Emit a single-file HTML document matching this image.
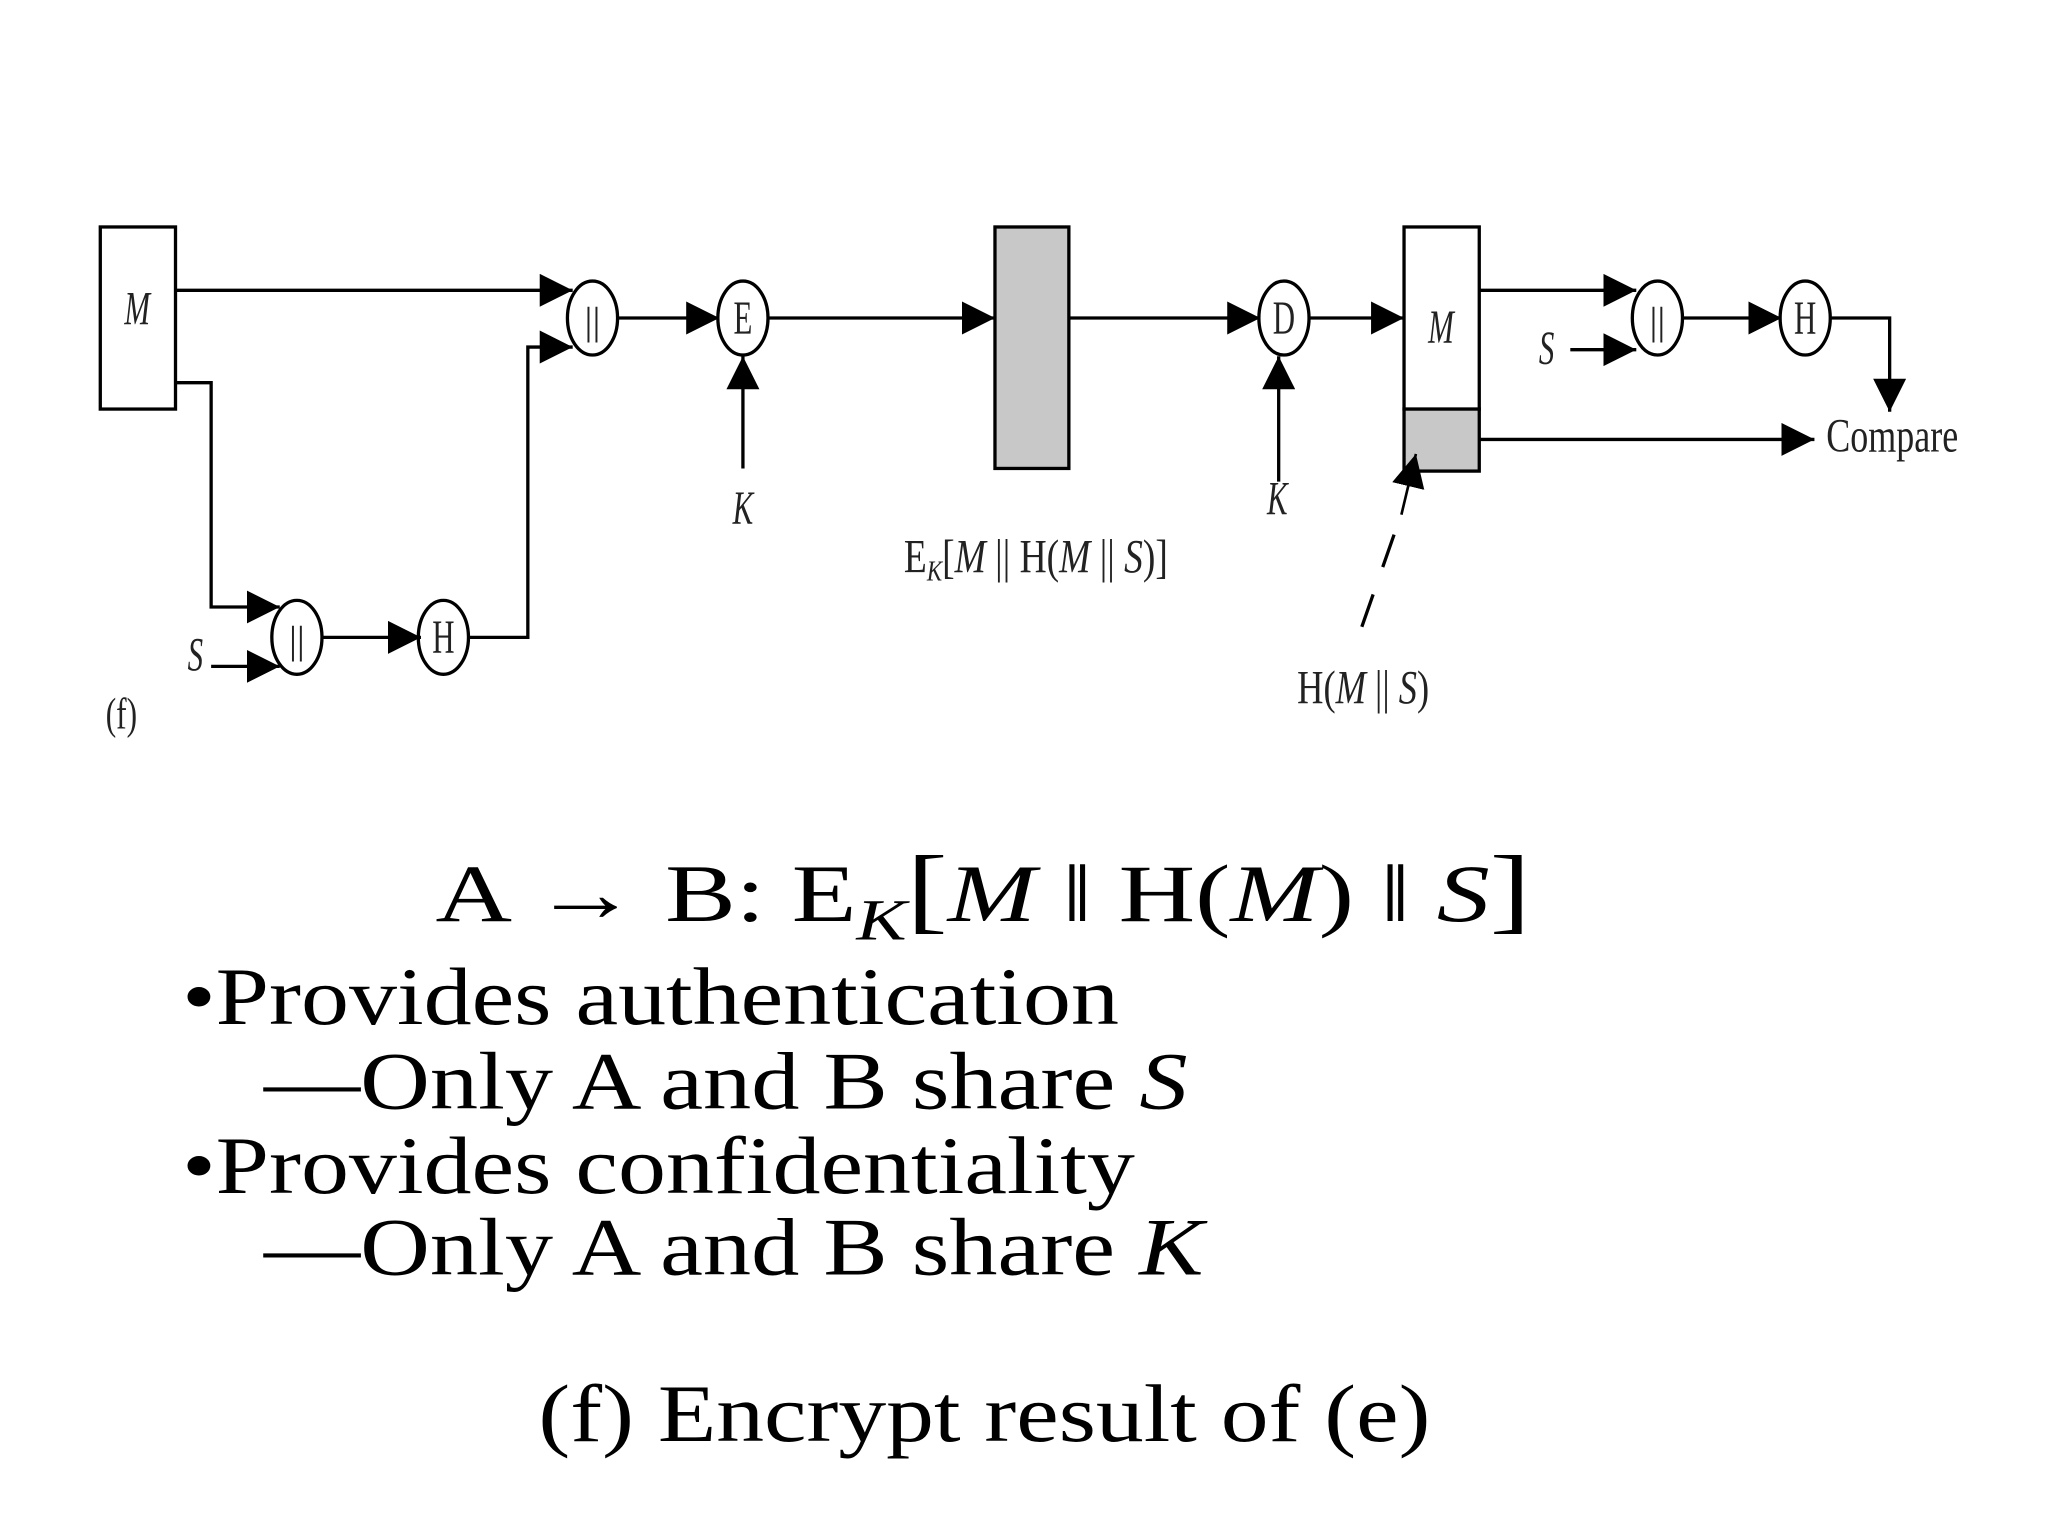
<!DOCTYPE html>
<html><head><meta charset="utf-8"><style>html,body{margin:0;padding:0;background:#fff}svg{display:block}</style></head>
<body>
<svg width="2048" height="1536" viewBox="0 0 1552 1164" xmlns="http://www.w3.org/2000/svg" font-family="Liberation Serif, serif">
<defs>
<marker id="a" viewBox="0 0 10 10" refX="10" refY="5" markerWidth="25" markerHeight="25" markerUnits="userSpaceOnUse" orient="auto"><path d="M0,0 L10,5 L0,10 z" fill="#000"/></marker>
</defs>
<g stroke="#000" stroke-width="2.5" fill="none">
<rect x="76" y="172" width="57" height="138" fill="#fff"/>
<rect x="754" y="172" width="56" height="183" fill="#c8c8c8"/>
<rect x="1064" y="172" width="57" height="138" fill="#fff"/>
<rect x="1064" y="310" width="57" height="47" fill="#c8c8c8"/>
<ellipse cx="449" cy="241" rx="19" ry="28" fill="#fff"/>
<ellipse cx="563" cy="241" rx="19" ry="28" fill="#fff"/>
<ellipse cx="225" cy="483" rx="19" ry="28" fill="#fff"/>
<ellipse cx="336" cy="483" rx="19" ry="28" fill="#fff"/>
<ellipse cx="973" cy="241" rx="19" ry="28" fill="#fff"/>
<ellipse cx="1256" cy="241" rx="19" ry="28" fill="#fff"/>
<ellipse cx="1368" cy="241" rx="19" ry="28" fill="#fff"/>
<path d="M133,220 H434" marker-end="url(#a)"/>
<path d="M133,290 H160 V460 H212" marker-end="url(#a)"/>
<path d="M160,505 H212" marker-end="url(#a)"/>
<path d="M244,483 H319" marker-end="url(#a)"/>
<path d="M355,483 H400 V263 H434" marker-end="url(#a)"/>
<path d="M468,241 H545" marker-end="url(#a)"/>
<path d="M563,355 V270" marker-end="url(#a)"/>
<path d="M582,241 H754" marker-end="url(#a)"/>
<path d="M810,241 H955" marker-end="url(#a)"/>
<path d="M969,365 V270" marker-end="url(#a)"/>
<path d="M992,241 H1064" marker-end="url(#a)"/>
<path d="M1121,220 H1240" marker-end="url(#a)"/>
<path d="M1190,265 H1240" marker-end="url(#a)"/>
<path d="M1275,241 H1350" marker-end="url(#a)"/>
<path d="M1387,241 H1432 V312" marker-end="url(#a)"/>
<path d="M1121,333 H1375" marker-end="url(#a)"/>
<path d="M1032,475 L1060,395" stroke-dasharray="26,22"/>
<path d="M1062,390 L1073,344" stroke-width="2" marker-end="url(#a)"/>
</g>
<g font-size="36" fill="#222" text-anchor="middle">
<text x="104" y="246" font-style="italic" transform="translate(104,0) scale(0.65,1) translate(-104,0)">M</text>
<text x="449" y="253" font-size="30">||</text>
<text x="563" y="253" transform="translate(563,0) scale(0.65,1) translate(-563,0)">E</text>
<text x="225" y="495" font-size="30">||</text>
<text x="336" y="495" transform="translate(336,0) scale(0.65,1) translate(-336,0)">H</text>
<text x="973" y="253" transform="translate(973,0) scale(0.65,1) translate(-973,0)">D</text>
<text x="1092" y="260" font-style="italic" transform="translate(1092,0) scale(0.65,1) translate(-1092,0)">M</text>
<text x="1256" y="253" font-size="30">||</text>
<text x="1368" y="253" transform="translate(1368,0) scale(0.65,1) translate(-1368,0)">H</text>
<text x="563" y="397" font-style="italic" transform="translate(563,0) scale(0.65,1) translate(-563,0)">K</text>
<text x="968" y="390" font-style="italic" transform="translate(968,0) scale(0.65,1) translate(-968,0)">K</text>
<text x="148" y="508" font-style="italic" transform="translate(148,0) scale(0.65,1) translate(-148,0)">S</text>
<text x="1172" y="276" font-style="italic" transform="translate(1172,0) scale(0.65,1) translate(-1172,0)">S</text>
<text x="92" y="552" font-size="34" transform="translate(92,0) scale(0.7,1) translate(-92,0)">(f)</text>
</g>
<g font-size="36" fill="#222">
<text x="1384" y="342" textLength="100" lengthAdjust="spacingAndGlyphs">Compare</text>
<text x="685" y="434" textLength="200" lengthAdjust="spacingAndGlyphs">E<tspan font-size="22" font-style="italic" dy="6">K</tspan><tspan dy="-6">[</tspan><tspan font-style="italic">M</tspan> || H(<tspan font-style="italic">M</tspan> || <tspan font-style="italic">S</tspan>)]</text>
<text x="983" y="533" textLength="100" lengthAdjust="spacingAndGlyphs">H(<tspan font-style="italic">M</tspan> || <tspan font-style="italic">S</tspan>)</text>
</g>
<g fill="#000" font-size="62">
<text x="330" y="698" textLength="830" lengthAdjust="spacingAndGlyphs">A → B:  E<tspan font-size="44" font-style="italic" dy="14">K</tspan><tspan dy="-14" font-size="72">[</tspan><tspan font-style="italic">M</tspan> ǁ H(<tspan font-style="italic">M</tspan>) ǁ <tspan font-style="italic">S</tspan><tspan font-size="72">]</tspan></text>
<text x="138" y="776" textLength="710" lengthAdjust="spacingAndGlyphs">•Provides authentication</text>
<text x="200" y="840" textLength="700" lengthAdjust="spacingAndGlyphs">—Only A and B share <tspan font-style="italic">S</tspan></text>
<text x="138" y="904" textLength="722" lengthAdjust="spacingAndGlyphs">•Provides confidentiality</text>
<text x="200" y="966" textLength="712" lengthAdjust="spacingAndGlyphs">—Only A and B share <tspan font-style="italic">K</tspan></text>
<text x="408" y="1092" textLength="676" lengthAdjust="spacingAndGlyphs">(f) Encrypt result of (e)</text>
</g>
</svg>
</body></html>
